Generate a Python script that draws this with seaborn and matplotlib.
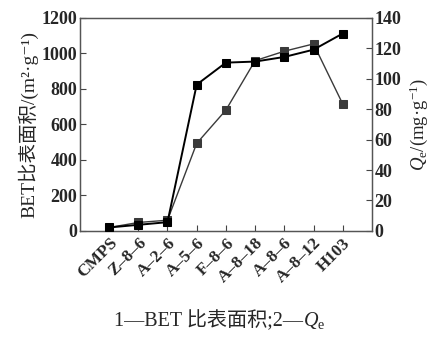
import matplotlib
matplotlib.use("Agg")
import matplotlib.pyplot as plt
import seaborn as sns
import pandas as pd

samples = ["CMPS", "Z\u20138\u20136", "A\u20132\u20136", "A\u20135\u20136", "F\u20138\u20136",
           "A\u20138\u201318", "A\u20138\u20136", "A\u20138\u201312", "H103"]
bet = [19, 34, 49, 824, 948, 954, 980, 1021, 1112]
qe = [2.2, 5.5, 7.0, 57.5, 79.4, 111.9, 118.1, 122.9, 83.4]

left_ticks = [0, 200, 400, 600, 800, 1000, 1200]
right_ticks = [0, 20, 40, 60, 80, 100, 120, 140]

sns.set_style("ticks")
plt.rcParams['font.family'] = ['Liberation Serif', 'Noto Sans CJK SC', 'DejaVu Sans']
plt.rcParams['mathtext.fontset'] = 'custom'
plt.rcParams['mathtext.rm'] = 'Liberation Serif'
plt.rcParams['mathtext.it'] = 'Liberation Serif:italic'
plt.rcParams['mathtext.bf'] = 'Liberation Serif:bold'

df = pd.DataFrame({"sample": samples, "bet": bet, "qe": qe})

fig = plt.figure(figsize=(4.34, 3.38), dpi=100)
ax = fig.add_axes([0.184, 0.317, 0.673, 0.630])
ax2 = ax.twinx()

sns.lineplot(data=df, x="sample", y="qe", ax=ax2, color="#3a3a3a", lw=1.0,
             marker="s", markersize=5.5, markeredgecolor="#3a3a3a", sort=False, zorder=2)
sns.lineplot(data=df, x="sample", y="bet", ax=ax, color="black", lw=1.4,
             marker="s", markersize=5.5, markeredgecolor="black", sort=False, zorder=3)
ax.set_zorder(ax2.get_zorder() + 1)
ax.patch.set_visible(False)

ax.set_xlim(-1, 9)
ax.set_ylim(0, 1200)
ax2.set_ylim(0, 140)
ax.set_yticks(left_ticks)
ax2.set_yticks(right_ticks)

ax.set_xlabel("")
ax.set_ylabel("BET比表面积/(m\u00b2\u00b7g\u207b\u00b9)", fontsize=14, labelpad=2)
ax2.set_ylabel("$Q_\\mathrm{e}$/(mg·g$^{-1}$)", fontsize=13.5, labelpad=4)

ax.set_xticks(range(len(samples)))
ax.set_xticklabels(samples, rotation=45, ha="right", rotation_mode="anchor",
                   fontsize=12.5, fontweight="bold")
for lab in ax.get_yticklabels():
    lab.set_fontsize(13)
    lab.set_fontweight("bold")
for lab in ax2.get_yticklabels():
    lab.set_fontsize(13)
    lab.set_fontweight("bold")

for a in (ax, ax2):
    a.tick_params(direction="in", length=4, width=0.8, color="#444444", pad=2)
    for s in a.spines.values():
        s.set_color("#555555")
        s.set_linewidth(0.9)
ax.tick_params(axis="x", pad=3)

cap = fig.text(0.25, 0.035, "1—BET 比表面积;2—", ha="left", va="baseline", fontsize=14.5)
q = fig.text(0.5, 0.035, "$Q_\\mathrm{e}$", ha="left", va="baseline", fontsize=14.5)
fig.canvas.draw()
r = fig.canvas.get_renderer()
w1 = cap.get_window_extent(r).width / fig.bbox.width
w2 = q.get_window_extent(r).width / fig.bbox.width
start = 0.505 - (w1 + w2) / 2
cap.set_x(start)
q.set_x(start + w1)

fig.savefig("out.png", dpi=100)
